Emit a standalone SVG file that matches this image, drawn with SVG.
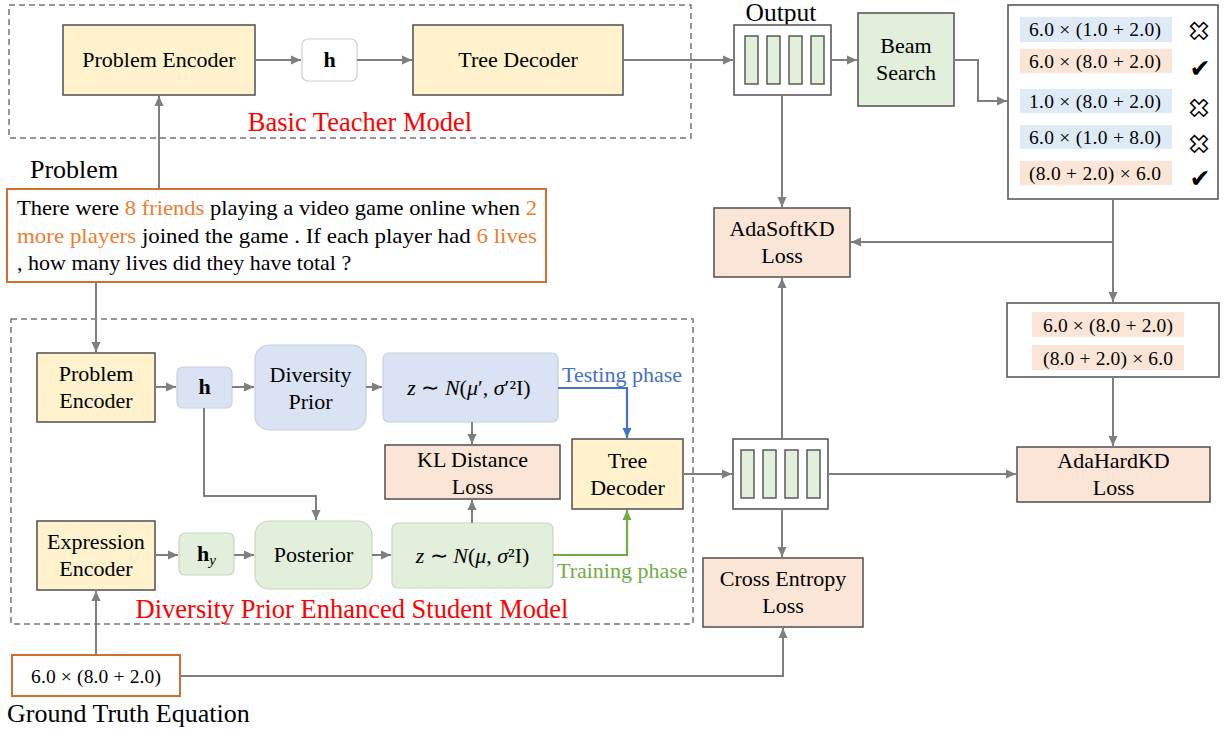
<svg xmlns="http://www.w3.org/2000/svg" width="1231" height="733" viewBox="0 0 1231 733">
<style>
text{font-family:"Liberation Serif","Times New Roman",serif;fill:#000}
.lbl{font-size:22px;text-anchor:middle}
.big{font-size:26px}
.red{fill:#ff0000;font-size:26.5px}
.eq{font-size:19.5px;text-anchor:middle}
.ptxt{font-size:22px}
.or{fill:#ed7d31}
.yel{fill:#fff2cc;stroke:#595959;stroke-width:1.6}
.org{fill:#fbe5d6;stroke:#595959;stroke-width:1.6}
.blu{fill:#dae3f3;stroke:#c9cfdc;stroke-width:1.2}
.grn{fill:#e2efda;stroke:#cbd5c4;stroke-width:1.2}
.wht{fill:#fff;stroke:#595959;stroke-width:1.6}
.bar{fill:#e2efda;stroke:#595959;stroke-width:1.5}
.dash{fill:none;stroke:#767676;stroke-width:1.5;stroke-dasharray:6 4}
.c{fill:none;stroke:#7f7f7f;stroke-width:2}
.cb{fill:none;stroke:#4472c4;stroke-width:2.2}
.cg{fill:none;stroke:#70ad47;stroke-width:2.2}
.hb{fill:#deebf7}
.ho{fill:#fbe5d6}
.it{font-style:italic}
.x{font-family:"DejaVu Sans",sans-serif;font-size:25px;fill:#fff;stroke:#000;stroke-width:1.5;text-anchor:middle}
.ck{font-family:"DejaVu Sans",sans-serif;font-size:25px;fill:#000;text-anchor:middle}
</style>
<defs>
<marker id="ag" markerUnits="userSpaceOnUse" markerWidth="11" markerHeight="10" refX="10" refY="5" orient="auto"><path d="M0,0.5 L10,5 L0,9.5 z" fill="#7f7f7f"/></marker>
<marker id="ab" markerUnits="userSpaceOnUse" markerWidth="11" markerHeight="10" refX="10" refY="5" orient="auto"><path d="M0,0.5 L10,5 L0,9.5 z" fill="#4472c4"/></marker>
<marker id="agr" markerUnits="userSpaceOnUse" markerWidth="11" markerHeight="10" refX="10" refY="5" orient="auto"><path d="M0,0.5 L10,5 L0,9.5 z" fill="#70ad47"/></marker>
</defs>
<rect width="1231" height="733" fill="#fff"/>

<g id="teacher-frame">
<rect class="dash" x="9" y="5" width="682" height="133"/>
<text class="red" x="360" y="131" text-anchor="middle">Basic Teacher Model</text>
</g>
<g id="student-frame">
<rect class="dash" x="11" y="319" width="682" height="305"/>
<text class="red" x="352" y="618" text-anchor="middle">Diversity Prior Enhanced Student Model</text>
</g>

<g id="t-problem-encoder"><rect class="yel" x="63" y="25" width="192" height="70"/><text class="lbl" x="159" y="67">Problem Encoder</text></g>
<g id="t-h"><rect x="302" y="39" width="55" height="42" rx="6" fill="#fff" stroke="#cfcfcf" stroke-width="1.2"/><text class="lbl" x="329.5" y="67" font-weight="bold">h</text></g>
<g id="t-tree-decoder"><rect class="yel" x="413" y="25" width="210" height="70"/><text class="lbl" x="518" y="67">Tree Decoder</text></g>

<g id="t-output">
<text x="781" y="21" text-anchor="middle" font-size="25.5">Output</text>
<rect class="wht" x="734" y="25" width="97" height="70"/>
<rect class="bar" x="745" y="36" width="13" height="48"/>
<rect class="bar" x="767" y="36" width="13" height="48"/>
<rect class="bar" x="789" y="36" width="13" height="48"/>
<rect class="bar" x="811" y="36" width="13" height="48"/>
</g>
<g id="beam-search"><rect x="858" y="13" width="96" height="93" fill="#e2efda" stroke="#595959" stroke-width="1.6"/><text class="lbl" x="906" y="53">Beam</text><text class="lbl" x="906" y="80">Search</text></g>

<g id="beam-list">
<rect class="wht" x="1008" y="5" width="210" height="194"/>
<rect class="hb" x="1020" y="17" width="152" height="25"/>
<rect class="ho" x="1020" y="49" width="152" height="24"/>
<rect class="hb" x="1020" y="89" width="152" height="24"/>
<rect class="hb" x="1020" y="125" width="152" height="24"/>
<rect class="ho" x="1020" y="161" width="152" height="24"/>
<text class="eq" x="1095" y="36" textLength="132" lengthAdjust="spacing">6.0 × (1.0 + 2.0)</text>
<text class="eq" x="1095" y="68" textLength="132" lengthAdjust="spacing">6.0 × (8.0 + 2.0)</text>
<text class="eq" x="1095" y="108" textLength="132" lengthAdjust="spacing">1.0 × (8.0 + 2.0)</text>
<text class="eq" x="1095" y="144" textLength="132" lengthAdjust="spacing">6.0 × (1.0 + 8.0)</text>
<text class="eq" x="1095" y="180" textLength="132" lengthAdjust="spacing">(8.0 + 2.0) × 6.0</text>
<text class="x" x="1199" y="40">✖</text>
<text class="ck" x="1200" y="77">✔</text>
<text class="x" x="1199" y="117">✖</text>
<text class="x" x="1199" y="153">✖</text>
<text class="ck" x="1200" y="187">✔</text>
</g>

<g id="problem">
<text class="big" x="30" y="178">Problem</text>
<rect x="7" y="189" width="539" height="93" fill="#fff" stroke="#d0702f" stroke-width="2"/>
<text class="ptxt" x="17" y="215" textLength="520" lengthAdjust="spacingAndGlyphs">There were <tspan class="or">8 friends</tspan> playing a video game online when <tspan class="or">2</tspan></text>
<text class="ptxt" x="17" y="243" textLength="520" lengthAdjust="spacingAndGlyphs"><tspan class="or">more players</tspan> joined the game . If each player had <tspan class="or">6 lives</tspan></text>
<text class="ptxt" x="17" y="270">, how many lives did they have total ?</text>
</g>

<g id="s-problem-encoder"><rect class="yel" x="37" y="353" width="118" height="69"/><text class="lbl" x="96" y="381">Problem</text><text class="lbl" x="96" y="408">Encoder</text></g>
<g id="s-h"><rect class="blu" x="177" y="367" width="55" height="41" rx="6"/><text class="lbl" x="204.5" y="394" font-weight="bold">h</text></g>
<g id="diversity-prior"><rect class="blu" x="255" y="345" width="111" height="85" rx="14"/><text class="lbl" x="310.5" y="382">Diversity</text><text class="lbl" x="310.5" y="409">Prior</text></g>
<g id="z-prior"><rect class="blu" x="383" y="353" width="175" height="69" rx="6"/><text class="lbl" x="469" y="395" font-size="23"><tspan class="it">z</tspan> ∼ <tspan class="it">N</tspan>(<tspan class="it">μ</tspan>′, <tspan class="it">σ</tspan>′²I)</text></g>
<g id="kl-loss"><rect class="org" x="385" y="445" width="175" height="54"/><text class="lbl" x="472.5" y="467">KL Distance</text><text class="lbl" x="472.5" y="494">Loss</text></g>
<g id="s-tree-decoder"><rect class="yel" x="572" y="439" width="111" height="70"/><text class="lbl" x="627.5" y="468">Tree</text><text class="lbl" x="627.5" y="495">Decoder</text></g>
<g id="expression-encoder"><rect class="yel" x="37" y="521" width="118" height="69"/><text class="lbl" x="96" y="549">Expression</text><text class="lbl" x="96" y="576">Encoder</text></g>
<g id="h-y"><rect class="grn" x="179" y="533" width="55" height="42" rx="6"/><text class="lbl" x="206.5" y="561"><tspan font-weight="bold">h</tspan><tspan class="it" font-size="15" dy="4">y</tspan></text></g>
<g id="posterior"><rect class="grn" x="255" y="521" width="117" height="68" rx="14"/><text class="lbl" x="313.5" y="562">Posterior</text></g>
<g id="z-post"><rect class="grn" x="392" y="523" width="161" height="65" rx="6"/><text class="lbl" x="472.5" y="563" font-size="23"><tspan class="it">z</tspan> ∼ <tspan class="it">N</tspan>(<tspan class="it">μ</tspan>, <tspan class="it">σ</tspan>²I)</text></g>
<text x="562" y="382" font-size="22" style="fill:#4472c4">Testing phase</text>
<text x="557" y="578" font-size="22" style="fill:#70ad47">Training phase</text>

<g id="s-output">
<rect class="wht" x="733" y="439" width="95" height="70"/>
<rect class="bar" x="741" y="450" width="13" height="48"/>
<rect class="bar" x="763" y="450" width="13" height="48"/>
<rect class="bar" x="785" y="450" width="13" height="48"/>
<rect class="bar" x="807" y="450" width="13" height="48"/>
</g>
<g id="adasoftkd"><rect class="org" x="714" y="208" width="136" height="69"/><text class="lbl" x="782" y="236">AdaSoftKD</text><text class="lbl" x="782" y="263">Loss</text></g>
<g id="hard-list">
<rect class="wht" x="1007" y="303" width="212" height="74"/>
<rect class="ho" x="1032" y="312" width="152" height="25"/>
<rect class="ho" x="1032" y="345" width="152" height="25"/>
<text class="eq" x="1108" y="332" textLength="130" lengthAdjust="spacing">6.0 × (8.0 + 2.0)</text>
<text class="eq" x="1108" y="365" textLength="130" lengthAdjust="spacing">(8.0 + 2.0) × 6.0</text>
</g>
<g id="adahardkd"><rect class="org" x="1017" y="447" width="193" height="55"/><text class="lbl" x="1113.5" y="468">AdaHardKD</text><text class="lbl" x="1113.5" y="495">Loss</text></g>
<g id="cross-entropy"><rect class="org" x="703" y="558" width="160" height="69"/><text class="lbl" x="783" y="586">Cross Entropy</text><text class="lbl" x="783" y="613">Loss</text></g>

<g id="ground-truth">
<rect x="12" y="655" width="168" height="41" fill="#fff" stroke="#d0702f" stroke-width="2"/>
<text class="eq" x="96" y="683" textLength="130" lengthAdjust="spacing">6.0 × (8.0 + 2.0)</text>
<text class="big" x="7" y="722">Ground Truth Equation</text>
</g>

<g id="connectors">
<path class="c" d="M255,60 H301" marker-end="url(#ag)"/>
<path class="c" d="M357,60 H412" marker-end="url(#ag)"/>
<path class="c" d="M623,60 H733" marker-end="url(#ag)"/>
<path class="c" d="M831,60 H857" marker-end="url(#ag)"/>
<path class="c" d="M954,60 H978 V101 H1007" marker-end="url(#ag)"/>
<path class="c" d="M782,95 V207" marker-end="url(#ag)"/>
<path class="c" d="M1113,199 V302" marker-end="url(#ag)"/>
<path class="c" d="M1113,242 H851" marker-end="url(#ag)"/>
<path class="c" d="M1113,377 V446" marker-end="url(#ag)"/>
<path class="c" d="M159,189 V96" marker-end="url(#ag)"/>
<path class="c" d="M96,282 V352" marker-end="url(#ag)"/>
<path class="c" d="M155,387 H176" marker-end="url(#ag)"/>
<path class="c" d="M232,387 H254" marker-end="url(#ag)"/>
<path class="c" d="M366,387 H382" marker-end="url(#ag)"/>
<path class="c" d="M472,422 V444" marker-end="url(#ag)"/>
<path class="c" d="M472,523 V500" marker-end="url(#ag)"/>
<path class="c" d="M204,408 V496 H316 V520" marker-end="url(#ag)"/>
<path class="c" d="M155,555 H178" marker-end="url(#ag)"/>
<path class="c" d="M234,555 H254" marker-end="url(#ag)"/>
<path class="c" d="M372,555 H391" marker-end="url(#ag)"/>
<path class="cb" d="M558,388 H627 V438" marker-end="url(#ab)"/>
<path class="cg" d="M553,555 H627 V510" marker-end="url(#agr)"/>
<path class="c" d="M683,474 H732" marker-end="url(#ag)"/>
<path class="c" d="M828,474 H1016" marker-end="url(#ag)"/>
<path class="c" d="M782,439 V278" marker-end="url(#ag)"/>
<path class="c" d="M782,509 V557" marker-end="url(#ag)"/>
<path class="c" d="M180,676 H783 V628" marker-end="url(#ag)"/>
<path class="c" d="M96,655 V591" marker-end="url(#ag)"/>
</g>
</svg>
